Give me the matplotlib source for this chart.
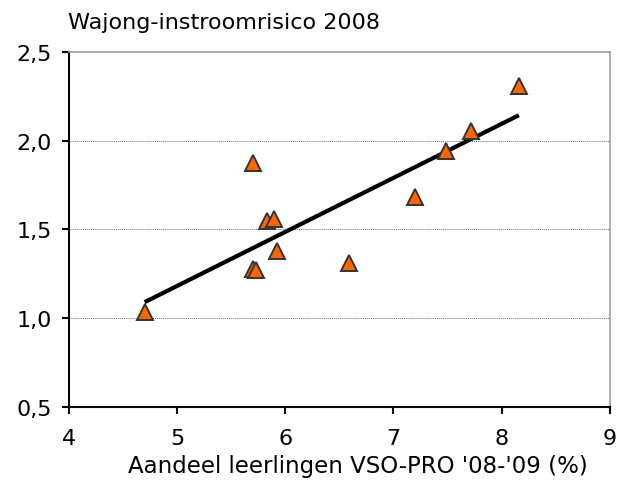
import matplotlib
matplotlib.use("Agg")
import matplotlib.pyplot as plt
import numpy as np
from matplotlib.ticker import FuncFormatter, MultipleLocator

# data
aandeel_vso_pro = [4.70, 5.70, 5.70, 5.73, 5.83, 5.90, 5.92, 6.59, 7.20, 7.49, 7.72, 8.16]
instroomrisico = [1.035, 1.875, 1.277, 1.27, 1.548, 1.56, 1.38, 1.31, 1.68, 1.94, 2.055, 2.31]
title = "Wajong-instroomrisico 2008"
xlabel = "Aandeel leerlingen VSO-PRO '08-'09 (%)"

plt.rcParams["font.family"] = ["DejaVu Sans"]

fig = plt.figure(figsize=(6.26, 4.81), dpi=100)
ax = fig.add_axes([0.110, 0.152, 0.864, 0.738])

x = np.array(aandeel_vso_pro)
y = np.array(instroomrisico)

# lineaire trendlijn
a, b = np.polyfit(x, y, 1)
xt = np.array([x.min(), x.max()])
ax.plot(xt, a * xt + b, color="black", linewidth=3.0, zorder=3, solid_capstyle="butt")

ax.plot(x, y, linestyle="none", marker="^", markersize=11.5,
        markerfacecolor="#FF6600", markeredgecolor="#333333",
        markeredgewidth=1.4, zorder=4)

ax.set_xlim(4, 9)
ax.set_ylim(0.5, 2.5)
ax.xaxis.set_major_locator(MultipleLocator(1))
ax.yaxis.set_major_locator(MultipleLocator(0.5))
ax.yaxis.set_major_formatter(FuncFormatter(lambda v, p: f"{v:.1f}".replace(".", ",")))
ax.xaxis.set_major_formatter(FuncFormatter(lambda v, p: f"{int(v)}"))

for g in [1.0, 1.5, 2.0]:
    ax.axhline(g, color="#707070", linewidth=0.7, linestyle=(0, (1, 1)), zorder=1)

ax.spines["left"].set_linewidth(1.5)
ax.spines["bottom"].set_linewidth(1.5)
ax.spines["top"].set_color("#A0A0A0")
ax.spines["top"].set_linewidth(1.2)
ax.spines["right"].set_color("#A0A0A0")
ax.spines["right"].set_linewidth(1.2)

ax.tick_params(axis="both", direction="out", length=5, width=1.5, labelsize=16, colors="black")
ax.tick_params(axis="x", pad=10)
ax.tick_params(axis="y", pad=7)

ax.set_xlabel(xlabel, fontsize=16.5, va="center")
ax.xaxis.set_label_coords(0.534, -0.166)
fig.text(0.108, 0.953, title, fontsize=16, ha="left", va="center")

fig.savefig("out.png", dpi=100)
